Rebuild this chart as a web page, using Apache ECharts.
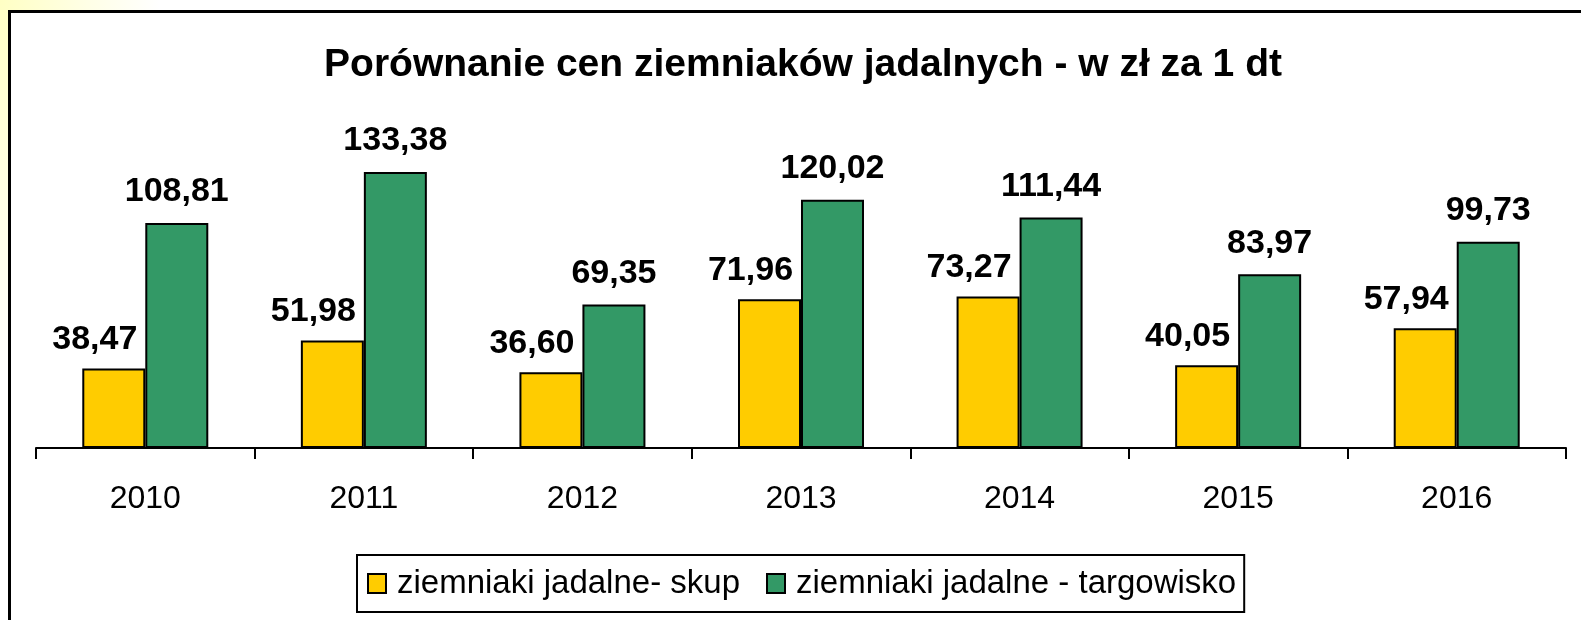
<!DOCTYPE html>
<html>
<head>
<meta charset="utf-8">
<script src="https://cdn.jsdelivr.net/npm/echarts@6/dist/echarts.min.js"></script>
<style>
  html, body { margin: 0; padding: 0; }
  body {
    width: 1581px; height: 620px; overflow: hidden;
    background: radial-gradient(ellipse 160px 380px at 0 0, #ffffc4 0%, #ffffe6 55%, #ffffff 100%);
  }
  #chart { width: 1581px; height: 620px; }
</style>
</head>
<body>
<div id="chart"></div>
<script>
// ==============================================================
// data
// ==============================================================
var years = ['2010', '2011', '2012', '2013', '2014', '2015', '2016'];
var skup = [38.47, 51.98, 36.60, 71.96, 73.27, 40.05, 57.94];
var targowisko = [108.81, 133.38, 69.35, 120.02, 111.44, 83.97, 99.73];
var seriesNames = ['ziemniaki jadalne- skup', 'ziemniaki jadalne - targowisko'];

var font = 'Liberation Sans, Arial, sans-serif';
var chart = echarts.init(document.getElementById('chart'));

function fmt(p) {
    return p.value.toFixed(2).replace('.', ',');
}

option = {
    backgroundColor: 'transparent',
    animation: false,
    title: {
        text: 'Porównanie cen ziemniaków jadalnych - w zł za 1 dt',
        left: 798,
        top: 41,
        textAlign: 'center',
        textStyle: { fontFamily: font, fontSize: 39, fontWeight: 'bold', color: '#000' }
    },
    legend: {
        data: seriesNames,
        left: 357,
        top: 555,
        padding: [12, 8, 12, 10],
        borderColor: '#000',
        borderWidth: 2,
        backgroundColor: '#fff',
        icon: 'rect',
        itemWidth: 18,
        itemHeight: 19,
        itemGap: 26,
        textStyle: { fontFamily: font, fontSize: 33, color: '#000', padding: [2, 0, 0, 6] }
    },
    graphic: [{
        type: 'rect',
        z: -10,
        shape: { x: 9.5, y: 11.5, width: 1600, height: 640 },
        style: { fill: '#fff', stroke: '#000', lineWidth: 3 }
    }],
    grid: { left: 36, right: 15, top: 117, bottom: 172 },
    xAxis: {
        type: 'category',
        data: years,
        axisLine: { lineStyle: { color: '#000', width: 2 } },
        axisTick: { show: true, length: 11, lineStyle: { color: '#000', width: 2 } },
        axisLabel: { fontFamily: font, fontSize: 32, color: '#000', margin: 35 }
    },
    yAxis: {
        type: 'value',
        min: 0,
        max: 160,
        show: false,
        splitLine: { show: false }
    },
    series: [
        {
            name: seriesNames[0],
            type: 'bar',
            data: skup,
            barWidth: 63,
            barGap: '0%',
            itemStyle: { color: '#ffcc00', borderColor: '#000', borderWidth: 2 },
            label: {
                show: true, position: 'top', distance: 12, offset: [-19, 0],
                formatter: fmt,
                fontFamily: font, fontSize: 34, fontWeight: 'bold', color: '#000'
            }
        },
        {
            name: seriesNames[1],
            type: 'bar',
            data: targowisko,
            barWidth: 63,
            barGap: '0%',
            itemStyle: { color: '#339966', borderColor: '#000', borderWidth: 2 },
            label: {
                show: true, position: 'top', distance: 14,
                formatter: fmt,
                fontFamily: font, fontSize: 34, fontWeight: 'bold', color: '#000'
            }
        }
    ]
};

chart.setOption(option);
</script>
</body>
</html>
